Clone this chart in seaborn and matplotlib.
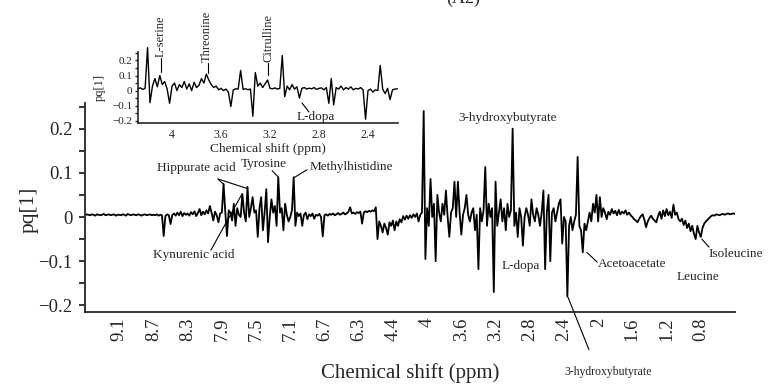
import numpy as np
import matplotlib
matplotlib.use("Agg")
import matplotlib.pyplot as plt
import seaborn as sns
from matplotlib.ticker import FixedLocator

# ---------------- data ----------------
main_tick_labels = ["9.1", "8.7", "8.3", "7.9", "7.5", "7.1", "6.7", "6.3", "4.4",
                    "4", "3.6", "3.2", "2.8", "2.4", "2", "1.6", "1.2", "0.8"]

# pq[1] loadings, one row per tick interval (20 buckets each)
main_pq = [
    0.004, 0.006, 0.005, 0.004, 0.006, 0.005, 0.003, 0.006, 0.005, 0.004, 0.005, 0.007, 0.004, 0.005, 0.006, 0.004, 0.005, 0.006, 0.003, 0.005,
    0.005, 0.004, 0.006, 0.005, 0.003, 0.007, 0.005, 0.004, 0.006, 0.005, 0.004, 0.006, 0.005, 0.003, 0.005, 0.006, 0.004, 0.005, 0.006, 0.004,
    0.005, 0.004, 0.006, 0.003, 0.005, 0.004, -0.043, 0.002, 0.006, 0.004, -0.016, 0.004, 0.008, 0.003, 0.010, 0.004, 0.012, 0.002, 0.009, 0.005,
    0.008, 0.003, 0.011, 0.006, 0.013, 0.002, 0.009, 0.018, 0.004, 0.012, 0.006, 0.015, 0.008, 0.025, 0.010, -0.008, 0.012, 0.004, -0.012, 0.008,
    0.010, 0.075, 0.012, -0.043, 0.015, 0.010, -0.008, 0.030, -0.020, 0.020, 0.005, 0.000, 0.052, 0.010, -0.010, 0.068, 0.000, 0.020, 0.045, 0.010,
    0.015, -0.045, 0.020, 0.045, -0.030, 0.010, 0.063, -0.057, 0.000, 0.040, 0.010, 0.025, -0.020, 0.090, 0.010, 0.020, -0.030, 0.030, 0.005, -0.010,
    0.000, 0.015, 0.090, -0.020, 0.010, 0.002, 0.008, -0.020, 0.005, 0.010, -0.005, 0.006, 0.002, 0.008, -0.004, 0.005, 0.003, 0.007, 0.000, -0.044,
    0.004, 0.006, 0.003, 0.007, 0.005, 0.008, 0.004, 0.006, 0.009, 0.005, 0.007, 0.010, 0.006, 0.008, 0.012, 0.022, 0.008, 0.010, 0.007, 0.011,
    0.009, 0.012, -0.015, 0.010, 0.013, 0.011, 0.014, 0.012, 0.015, 0.013, 0.022, -0.050, -0.010, -0.020, -0.035, -0.015, -0.025, -0.040, -0.012, -0.020,
    -0.008, -0.030, -0.010, -0.020, -0.005, -0.012, 0.002, -0.006, 0.003, -0.004, 0.004, -0.002, 0.006, 0.000, 0.008, -0.010, 0.005, 0.010, 0.240, -0.095,
    0.020, -0.020, 0.086, 0.000, 0.030, -0.100, 0.050, 0.010, -0.010, 0.030, 0.005, 0.060, 0.000, -0.045, 0.010, 0.020, 0.080, 0.000, 0.080, 0.010,
    -0.040, 0.005, 0.020, 0.050, 0.005, -0.010, 0.010, 0.020, -0.030, 0.005, -0.118, 0.020, -0.010, 0.015, 0.113, -0.020, 0.030, 0.000, 0.020, -0.170,
    0.080, -0.020, 0.010, 0.040, -0.010, 0.020, -0.030, 0.030, 0.000, 0.015, 0.200, -0.020, 0.010, -0.045, 0.020, 0.000, -0.065, 0.000, 0.020, 0.005,
    -0.020, 0.040, 0.005, -0.010, 0.020, 0.005, -0.020, 0.010, 0.060, -0.118, 0.010, 0.050, -0.100, 0.010, 0.020, -0.010, 0.010, 0.030, 0.040, -0.060,
    0.000, -0.010, -0.180, -0.020, 0.000, -0.030, -0.010, 0.005, 0.136, -0.020, -0.030, -0.080, -0.015, -0.030, -0.010, 0.010, -0.010, 0.030, 0.010, 0.050,
    -0.010, 0.045, 0.000, 0.020, 0.010, -0.005, 0.012, 0.005, 0.018, 0.008, 0.014, 0.004, 0.016, 0.006, 0.012, 0.008, 0.015, 0.005, 0.010, 0.004,
    0.000, -0.005, -0.008, -0.012, -0.004, 0.002, 0.006, -0.006, -0.023, -0.010, -0.002, 0.003, -0.004, -0.008, -0.012, 0.002, 0.012, -0.004, 0.015, 0.002,
    0.018, 0.004, 0.012, -0.002, 0.028, 0.005, 0.010, -0.005, -0.010, -0.004, -0.018, -0.008, -0.025, -0.015, -0.032, -0.020, -0.038, -0.050, -0.020, -0.035,
    -0.045, -0.025, -0.015, -0.010, -0.006, -0.002, 0.002, 0.004, 0.003, 0.006, 0.005, 0.004, 0.006, 0.007, 0.005, 0.007, 0.008, 0.006, 0.007, 0.008,
    0.007,
]

inset_tick_values = [4.0, 3.6, 3.2, 2.8, 2.4]
inset_tick_labels = ["4", "3.6", "3.2", "2.8", "2.4"]
inset_start_ppm = 4.28
inset_step_ppm = 0.02
inset_pq = [
    0.012, 0.018, 0.008, 0.015, 0.285, -0.080, 0.030, 0.080, 0.025, 0.100,
    0.040, 0.060, 0.010, -0.084, 0.030, 0.050, 0.000, 0.040, 0.020, 0.060,
    0.010, 0.045, 0.000, 0.055, 0.020, 0.035, 0.080, 0.050, 0.110, 0.070,
    0.040, 0.020, 0.030, 0.005, 0.015, 0.000, 0.010, -0.010, -0.106, 0.005,
    0.012, 0.010, 0.134, 0.008, 0.012, 0.006, 0.010, -0.170, 0.120, 0.030,
    0.050, 0.020, 0.045, 0.070, 0.015, 0.012, 0.018, 0.010, 0.015, 0.233,
    -0.040, 0.030, 0.005, 0.040, 0.010, 0.025, -0.050, 0.015, 0.020, 0.010,
    0.016, 0.012, 0.020, 0.008, 0.015, 0.018, 0.005, 0.020, -0.084, 0.080,
    -0.095, 0.020, 0.010, 0.030, 0.005, 0.020, 0.010, 0.025, 0.005, 0.015,
    0.010, 0.020, 0.005, -0.190, 0.000, 0.010, -0.010, 0.005, 0.000, 0.167,
    0.010, -0.020, 0.015, -0.060, 0.005, 0.010, 0.012,
]

# ---------------- style ----------------
sns.set_style("ticks")
plt.rcParams["font.family"] = ["Liberation Serif", "DejaVu Serif"]
plt.rcParams["axes.linewidth"] = 1.3

W, H = 772, 391
fig = plt.figure(figsize=(W / 100, H / 100), dpi=100)

def fax(l, t, r, b):
    return [l / W, (H - b) / H, (r - l) / W, (b - t) / H]

# ---------------- main axes ----------------
ax = fig.add_axes(fax(85, 103, 735, 312))
main_pos = np.arange(len(main_pq)) / 20.0
sns.lineplot(x=main_pos, y=main_pq, ax=ax, color="black", lw=1.3,
             estimator=None, sort=False)
ax.set_xlim(0, 19)
ax.set_ylim(-0.215, 0.258)
sns.despine(ax=ax)
ax.xaxis.set_major_locator(FixedLocator(np.arange(1, len(main_tick_labels) + 1)))
ax.set_xticklabels(main_tick_labels, rotation=90, fontsize=13.5)
ax.tick_params(axis="x", length=0, pad=4)
ax.yaxis.set_major_locator(FixedLocator([-0.2, -0.1, 0, 0.1, 0.2]))
ax.set_yticklabels(["\u22120.2", "\u22120.1", "0", "0.1", "0.2"], fontsize=13.5)
ax.yaxis.set_minor_locator(FixedLocator([-0.15, -0.05, 0.05, 0.15, 0.25]))
ax.tick_params(axis="y", which="both", direction="out", length=4, width=1.3, pad=5)
ax.set_xlabel("Chemical shift (ppm)", fontsize=15)
ax.set_ylabel("pq[1]", fontsize=15.5)
ax.xaxis.set_label_coords(0.5, -0.245)
ax.yaxis.set_label_coords(-0.072, 0.49)

ann = dict(fontsize=9.5, ha="center", va="center")
lk = dict(color="black", lw=0.8)
ax.text(12.34, 0.223, "3-hydroxybutyrate", **ann)
ax.text(3.24, 0.111, "Hippurate acid", **ann)
ax.plot([3.89, 4.06], [0.086, 0.073], **lk)
ax.plot([3.89, 4.76], [0.086, 0.064], **lk)
ax.text(5.23, 0.121, "Tyrosine", **ann)
ax.plot([5.47, 5.64], [0.105, 0.091], **lk)
ax.text(7.80, 0.114, "Methylhistidine", **ann)
ax.plot([6.49, 6.11], [0.107, 0.089], **lk)
ax.text(3.19, -0.086, "Kynurenic acid", **ann)
ax.plot([3.68, 4.59], [-0.075, 0.052], **lk)
ax.text(12.74, -0.111, "L-dopa", **ann)
ax.text(15.99, -0.107, "Acetoacetate", **ann)
ax.plot([14.97, 14.67], [-0.102, -0.080], **lk)
ax.text(19.03, -0.084, "Isoleucine", clip_on=False, **ann)
ax.plot([18.24, 18.03], [-0.068, -0.050], **lk)
ax.text(17.92, -0.136, "Leucine", **ann)
ax.text(15.29, -0.35, "3-hydroxybutyrate", fontsize=8.5, ha="center", va="center")
ax.plot([14.12, 14.73], [-0.182, -0.300], clip_on=False, **lk)

# ---------------- inset axes ----------------
axi = fig.add_axes(fax(138, 52, 398, 123))
inset_shift = np.round(inset_start_ppm - inset_step_ppm * np.arange(len(inset_pq)), 2)
sns.lineplot(x=inset_shift, y=inset_pq, ax=axi, color="black", lw=1.0,
             estimator=None, sort=False)
for ln in axi.lines:
    ln.set_clip_on(False)
axi.set_xlim(4.278, 2.155)
axi.set_ylim(-0.215, 0.256)
axi.patch.set_alpha(0)
sns.despine(ax=axi)
axi.spines["left"].set_linewidth(1.2)
axi.spines["bottom"].set_linewidth(1.2)
axi.xaxis.set_major_locator(FixedLocator(inset_tick_values))
axi.set_xticklabels(inset_tick_labels, fontsize=8.5)
axi.tick_params(axis="x", length=0, pad=4)
axi.yaxis.set_major_locator(FixedLocator([-0.2, -0.1, 0, 0.1, 0.2]))
axi.set_yticklabels(["\u22120.2", "\u22120.1", "0", "0.1", "0.2"], fontsize=8)
axi.yaxis.set_minor_locator(FixedLocator([-0.15, -0.05, 0.05, 0.15, 0.25]))
axi.tick_params(axis="y", which="both", direction="out", length=2.5, width=1.0, pad=1.5)
axi.set_xlabel("Chemical shift (ppm)", fontsize=9.7)
axi.set_ylabel("pq[1]", fontsize=9)
axi.xaxis.set_label_coords(0.5, -0.28)
axi.yaxis.set_label_coords(-0.123, 0.5)

iann = dict(fontsize=9, ha="center", va="bottom", rotation=90, clip_on=False)
axi.text(4.09, 0.225, "L-serine", **iann)
axi.plot([4.09, 4.09], [0.218, 0.125], clip_on=False, **lk)
axi.text(3.714, 0.19, "Threonine", **iann)
axi.plot([3.706, 3.706], [0.185, 0.118], clip_on=False, **lk)
axi.text(3.216, 0.19, "Citrulline", **iann)
axi.plot([3.216, 3.216], [0.185, 0.105], clip_on=False, **lk)
axi.text(2.825, -0.175, "L-dopa", fontsize=9.5, ha="center", va="center")
axi.plot([2.939, 2.882], [-0.082, -0.142], **lk)

fig.text(463 / W, 1 - 2.5 / H, "(A2)", fontsize=13, ha="center", va="baseline")

fig.savefig("out.png", dpi=100)
